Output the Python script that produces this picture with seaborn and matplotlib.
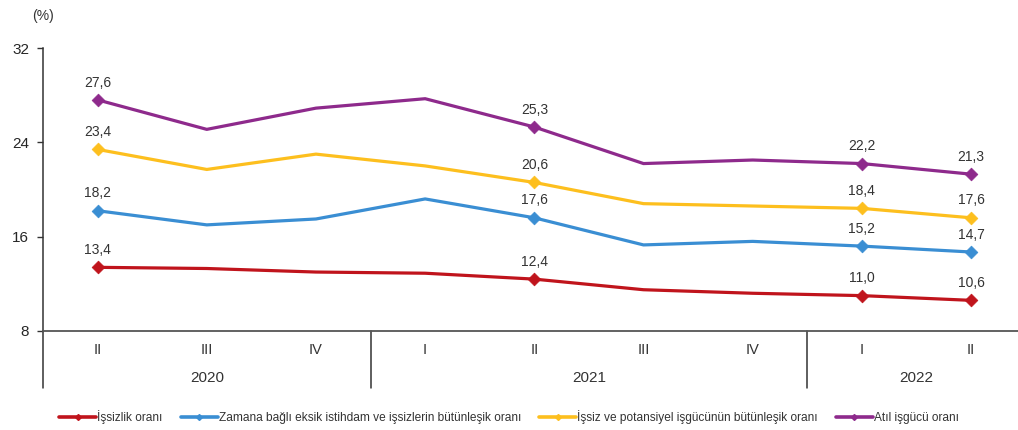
import matplotlib
matplotlib.use("Agg")
import matplotlib.pyplot as plt
import matplotlib.transforms as mtransforms
from matplotlib.lines import Line2D
import numpy as np
import pandas as pd
import seaborn as sns

quarters = ["II", "III", "IV", "I", "II", "III", "IV", "I", "II"]
years = ["2020", "2021", "2022"]
year_centers = [1, 4.5, 7.5]
year_bounds = [2.5, 6.5]

unemployment = [13.4, 13.3, 13.0, 12.9, 12.4, 11.5, 11.2, 11.0, 10.6]
time_related = [18.2, 17.0, 17.5, 19.2, 17.6, 15.3, 15.6, 15.2, 14.7]
potential_lf = [23.4, 21.7, 23.0, 22.0, 20.6, 18.8, 18.6, 18.4, 17.6]
labour_underutil = [27.6, 25.1, 26.9, 27.7, 25.3, 22.2, 22.5, 22.2, 21.3]

series_names = [
    "İşsizlik oranı",
    "Zamana bağlı eksik istihdam ve işsizlerin bütünleşik oranı",
    "İşsiz ve potansiyel işgücünün bütünleşik oranı",
    "Atıl işgücü oranı",
]
colors = ["#C0141C", "#3A8ED3", "#FDBF1E", "#8E2A8C"]
labelled = [0, 4, 7, 8]

sns.set_style("white")
plt.rcParams["font.family"] = ["Liberation Sans", "DejaVu Sans"]

fig = plt.figure(figsize=(10.18, 4.30), dpi=100)
ax = fig.add_axes([43 / 1018, 1 - 331 / 430, (1018 - 43) / 1018, 283 / 430])

x = np.arange(len(quarters))
all_series = [unemployment, time_related, potential_lf, labour_underutil]

for name, values, color in zip(series_names, all_series, colors):
    df = pd.DataFrame({"x": x, "y": values})
    sns.lineplot(data=df, x="x", y="y", color=color, linewidth=2.3, ax=ax,
                 legend=False)
    sub = df.iloc[labelled]
    sns.scatterplot(data=sub, x="x", y="y", color=color, marker="D", s=42,
                    edgecolor=color, ax=ax, legend=False, zorder=3)
    for _, row in sub.iterrows():
        ax.annotate(f"{row['y']:.1f}".replace(".", ","), (row["x"], row["y"]),
                    xytext=(0, 12.5), textcoords="offset points", ha="center",
                    va="center", fontsize=10, color="#333333")

ax.set_xlim(-0.5, 8.43)
ax.set_ylim(8, 32)
ax.set_yticks([8, 16, 24, 32])
ax.tick_params(axis="y", direction="out", length=4, width=1, color="#333333",
               labelsize=11, labelcolor="#262626", pad=6, left=True)
ax.set_xticks(x)
ax.set_xticklabels(quarters, fontsize=10.5, color="#333333")
ax.tick_params(axis="x", length=0, pad=9)
ax.set_xlabel("")
ax.set_ylabel("")

for side in ["top", "right"]:
    ax.spines[side].set_visible(False)
ax.spines["left"].set_color("#333333")
ax.spines["bottom"].set_color("#555555")
ax.spines["left"].set_linewidth(1.1)
ax.spines["bottom"].set_linewidth(1.3)

trans = mtransforms.blended_transform_factory(ax.transData, ax.transAxes)
for xb in [-0.5] + year_bounds:
    ax.plot([xb, xb], [0, -0.201], transform=trans, color="#333333",
            linewidth=1.1, clip_on=False)
for yr, xc in zip(years, year_centers):
    ax.text(xc, -0.166, yr, transform=trans, ha="center", va="center",
            fontsize=11, color="#333333")

fig.text(43 / 1018, 1 - 16 / 430, "(%)", ha="center", va="center",
         fontsize=10, color="#333333")

handles = [Line2D([0], [0], color=c, linewidth=2.6, marker="D", markersize=3)
           for c in colors]
fig.legend(handles, series_names, loc="center", bbox_to_anchor=(509 / 1018, 1 - 417 / 430),
           ncol=4, frameon=False, fontsize=8.6, handlelength=3.1, handletextpad=0.1,
           columnspacing=1.5, labelcolor="#333333")

fig.savefig("out.png", dpi=100)
